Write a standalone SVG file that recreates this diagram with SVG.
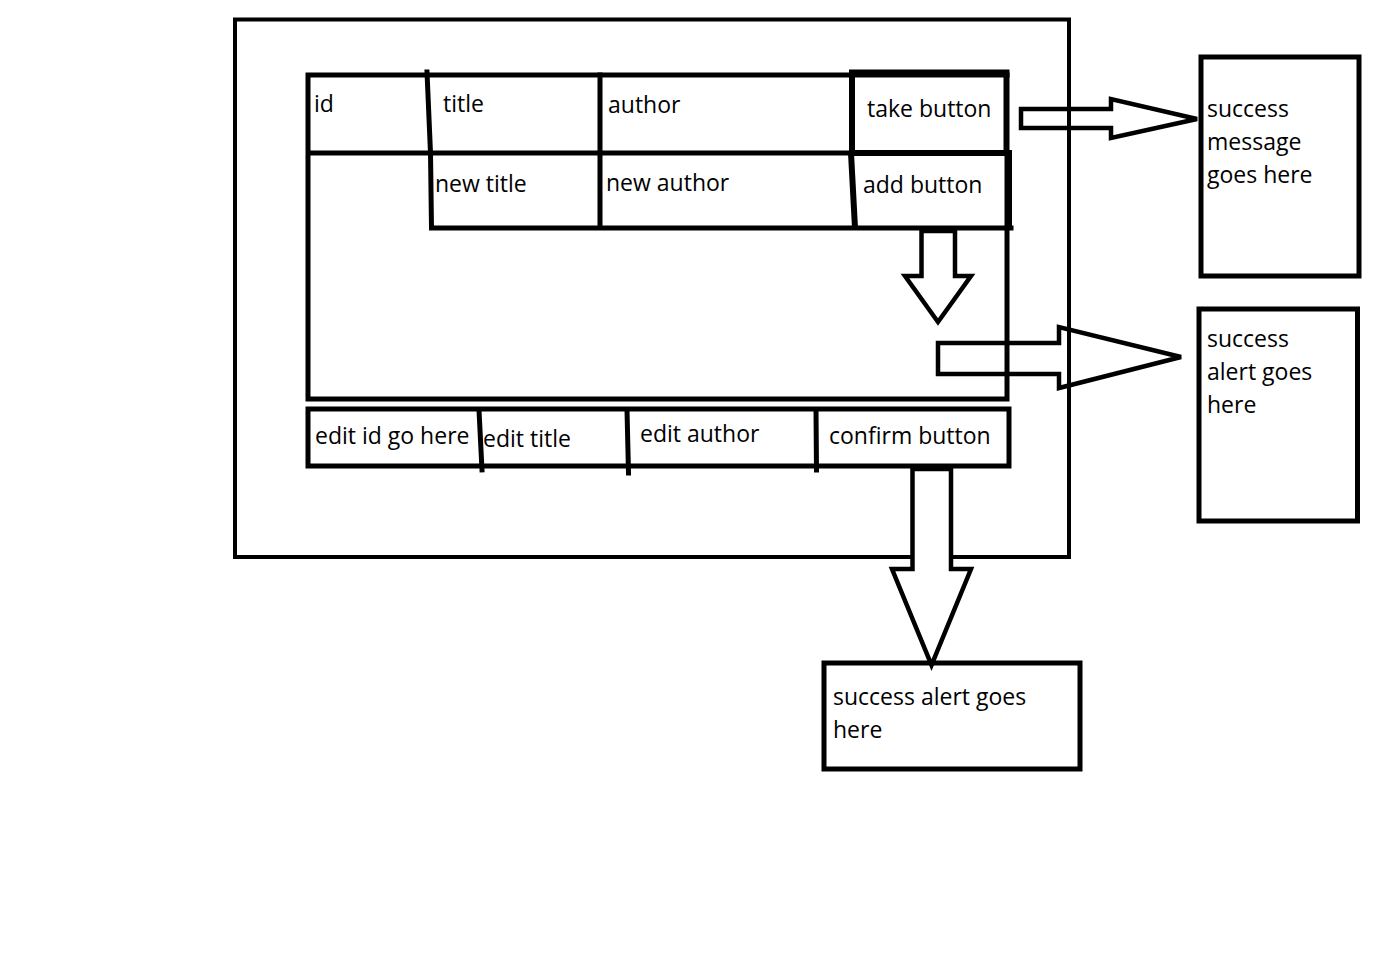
<svg xmlns="http://www.w3.org/2000/svg" width="1382" height="970" viewBox="0 0 1382 970">
<style>
.bg{fill:#ffffff}
.box{fill:none;stroke:#000;stroke-width:5}
.thin{fill:none;stroke:#000;stroke-width:4}
.thick{fill:none;stroke:#000;stroke-width:6}
.ln{stroke:#000;stroke-width:5;stroke-linecap:square;fill:none}
.arrow{fill:none;stroke:#000;stroke-width:4.5;stroke-linejoin:miter}
.arrow-filled{fill:#ffffff;stroke:#000;stroke-width:4.5;stroke-linejoin:miter}
text{font-family:"Open Sans","Noto Sans","DejaVu Sans",sans-serif;font-size:23px;fill:#000}
</style>
<rect class="bg" x="0" y="0" width="1382" height="970"/>
<g id="outer-frame">
<rect class="thin" x="235" y="19.5" width="834" height="537.5"/>
</g>
<g id="table">
<path class="ln" d="M308 75 L1007 75 M308 75 L308 399 L1007 399 L1007 153 M308 153 L1007 153"/>
<path class="ln" d="M427 72 L430.5 153 L431.5 228 L1011 228 M600 75 L600 228"/>
<text x="314" y="112">id</text>
<text x="443" y="112">title</text>
<text x="608" y="113">author</text>
<text x="435" y="192">new title</text>
<text x="606" y="191">new author</text>
</g>
<g id="take-button">
<rect class="thick" x="852" y="72.5" width="154.5" height="80.5"/>
<text x="867" y="117">take button</text>
</g>
<g id="add-button">
<path class="thick" d="M851 153 L1009 153 L1009 229 M851 153 L855 228"/>
<text x="863" y="193">add button</text>
</g>
<g id="edit-row">
<rect class="box" x="308" y="409" width="701" height="57"/>
<path class="ln" d="M479 410 L482 470 M627 410 L628.5 473 M816 410 L816.5 470"/>
<text x="315" y="444">edit id go here</text>
<text x="483" y="447">edit title</text>
<text x="640" y="442">edit author</text>
<text x="829" y="444">confirm button</text>
</g>
<g id="success-message-box">
<rect class="box" x="1201" y="57" width="158" height="219"/>
<text x="1207" y="117">success</text>
<text x="1207" y="150">message</text>
<text x="1207" y="183">goes here</text>
</g>
<g id="success-alert-box-right">
<rect class="box" x="1199" y="309" width="158.5" height="212"/>
<text x="1207" y="347">success</text>
<text x="1207" y="380">alert goes</text>
<text x="1207" y="413">here</text>
</g>
<g id="success-alert-box-bottom">
<rect class="box" x="824" y="663" width="256" height="106"/>
<text x="833" y="705">success alert goes</text>
<text x="833" y="738">here</text>
</g>
<g id="connectors">
<polygon class="arrow" points="1021,109 1111,109 1111,99 1197,119 1111,138 1111,128 1021,128"/>
<polygon class="arrow" points="921.5,231 921.5,276 905,276 938,322 971,276 955,276 955,231"/>
<polygon class="arrow" points="938,343 1059,343 1059,327 1181,357 1059,388 1059,374 938,374"/>
<polygon class="arrow-filled" points="912.5,469 912.5,569 892,569 931.5,665 971,569 951,569 951,469"/>
</g>
</svg>
